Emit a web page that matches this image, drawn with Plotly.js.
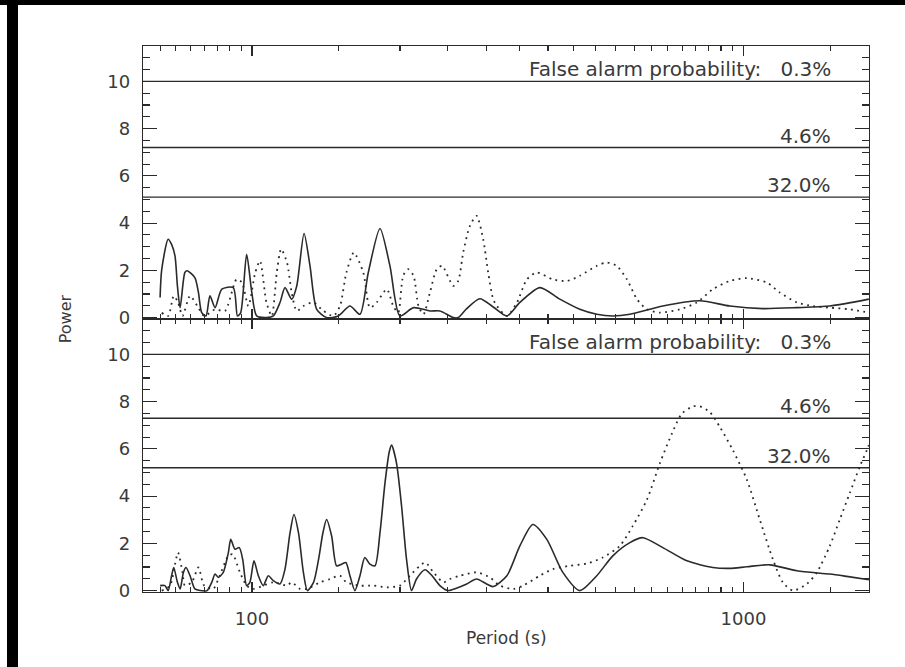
<!DOCTYPE html>
<html>
<head>
<meta charset="utf-8">
<script src="https://cdn.plot.ly/plotly-3.0.1.min.js"></script>
<style>html,body{margin:0;padding:0;background:#fff;}#chart{width:905px;height:667px;}</style>
</head>
<body>
<div id="chart"></div>
<script>
// ---- Upper panel: solid curve ----
const upperSolidPeriod = [65.0,65.5,67.5,68.6,69.7,70.5,71.4,73.0,73.8,76.5,77.8,79.0,80.6,82.1,84.1,86.8,91.6,93.4,94.8,97.5,99.9,102.2,107.0,110.5,114.0,116.7,120.4,123.3,127.6,131.2,135.4,141.8,149.8,158.2,165.8,172.4,182.1,190.8,199.9,213.1,230.1,241.1,256.7,262.7,273.4,290.8,309.5,330,350.7,385.1,422.9,464.4,502.8,542,587,685,815,938,1094,1284,1498,1799];
const upperSolidPower = [0.85,2.03,3.32,3.1,2.61,1.34,0.42,1.91,1.98,1.69,1.06,0.21,0.07,0.92,0.42,1.2,1.27,0.07,0.2,2.68,1.06,0.07,0,0.07,0.64,1.27,0.78,1.34,3.56,2.19,0.35,0,0.07,0.49,0.14,1.91,3.77,2.19,0.07,0.42,0.28,0.28,0,0,0.38,0.8,0.45,0.07,0.64,1.27,0.78,0.35,0.14,0.07,0.14,0.49,0.71,0.49,0.38,0.42,0.49,0.78];

// ---- Upper panel: dotted curve ----
const upperDotPeriod = [65.5,67.5,69.3,70.7,72.2,74.8,77.4,79.9,84.1,88.1,93.0,95.3,98.3,101.5,103.8,107.0,109.7,112.3,114.6,117.8,120.4,123.3,127.2,133.4,139.7,146.4,151.0,155.6,161.1,168.4,173.7,179.3,188.0,193.8,198.3,203.0,207.8,213.1,218.1,223.3,230.1,237.6,243.6,256.7,262.7,268.9,277.5,286.3,295.3,302.3,309.5,315.0,330,346,362.5,379.7,409,437,464.4,502.8,527,552,579,607,636,675.8,742.2,803.6,866,938,1016,1116,1185,1284,1384,1498,1645,1799];
const upperDotPower = [0.2,0.07,0.92,0.64,0.07,0.92,0.49,0.07,0.35,0.28,1.62,1.5,0.49,1.9,2.4,0.64,0.07,1.91,2.9,2.33,1.06,0.28,0.49,0.64,0.28,0.07,0.49,1.91,2.75,1.91,0.42,0.64,1.2,0.49,0.21,1.77,2.05,1.77,0.49,0.14,1.06,2.05,2.19,1.34,1.55,2.75,3.88,4.31,3.32,1.91,0.78,0.49,0.07,0.64,1.62,1.91,1.62,1.55,1.77,2.19,2.33,2.19,1.62,0.78,0.35,0.21,0.35,0.64,1.2,1.55,1.67,1.48,1.06,0.64,0.49,0.42,0.35,0.21];

// ---- Lower panel: solid curve ----
const lowerSolidPeriod = [65.0,66.5,67.5,68.6,69.3,70.5,71.4,72.5,73.4,74.8,76.5,78.4,81.0,82.8,84.1,85.4,87.4,89.5,90.5,92.3,94.2,95.7,97.5,99.0,100.9,103.0,105.4,107.9,110.5,114.0,116.7,119.5,121.7,124.3,127.2,129.6,133.4,136.6,139.4,141.8,145.2,148.6,152.1,155.2,158.2,161.9,165.8,169.6,173.7,177.9,182.1,186.4,190.2,192.3,196.8,201.5,206.2,211.1,216.1,224.9,232.4,241.1,250.6,260.4,273.4,286.3,300.0,309.5,330,350.7,372.7,397.9,428.9,464.4,502.8,542,587.2,624,685.4,767,866,938,1016,1131,1284,1498,1622,1799];
const lowerSolidPower = [0.21,0.21,0,0.63,0.98,0.35,0.07,0.77,0.98,0.63,0.07,0,0,0.35,0.7,0.56,0.77,1.61,2.17,1.75,1.82,1.33,0.21,0.35,1.26,0.63,0.21,0.63,0.42,0.28,0.91,2.45,3.22,2.45,0.77,0,0.35,1.33,2.45,3.01,2.31,1.05,1.12,1.19,0.63,0,0.63,1.4,1.12,1.05,2.45,4.55,5.88,6.16,5.39,3.57,1.33,0,0.49,0.88,0.63,0.21,0,0.1,0.28,0.49,0.28,0.17,0.63,1.89,2.8,2.17,0.77,0,0.63,1.47,2.03,2.24,1.82,1.26,0.98,0.94,1.01,1.09,0.84,0.7,0.6,0.46];

// ---- Lower panel: dotted curve ----
const lowerDotPeriod = [65.5,68.1,69.7,70.7,72.2,73.0,75.4,77.8,79.9,83.4,85.4,89.5,91.3,94.5,97.5,100.6,110.5,117.8,120.4,125.2,129.2,137.5,144.1,151.0,155.6,165.8,176.5,188.0,199.9,209.5,224.9,234.0,245.1,252.7,264.8,286.3,304.7,319.3,340,356,385.1,409.2,443.1,481,517,560,595,636,675.8,715,749,789,815,854,895,951,1016,1079,1147,1202,1260,1345,1410,1498,1570,1645,1724,1782,1799];
const lowerDotPower = [0,0.21,1.12,1.61,0.77,0.21,0.35,0.98,0.21,0.07,0.49,1.47,1.54,0.77,0.21,0.07,0.35,0.21,0.35,0.07,0.07,0.35,0.49,0.63,0.35,0.21,0.21,0.14,0.21,0.63,1.19,0.77,0.35,0.49,0.63,0.77,0.56,0.21,0.07,0.21,0.63,0.91,1.05,1.15,1.4,1.89,2.73,3.85,5.39,6.65,7.49,7.8,7.8,7.56,6.93,5.95,4.69,3.01,1.33,0.35,0,0.28,0.77,1.89,3.01,4.13,5.25,5.95,6.16];

// ---- False alarm probability levels ----
const upperFAP = [10.0, 7.2, 5.1];
const lowerFAP = [10.0, 7.3, 5.2];
const fapLabels = ['False alarm probability:\u00a0\u00a0\u00a00.3%', '4.6%', '32.0%'];

// ---- Axis ticks ----
const xMajorTicks = [100, 1000];
const xMajorText = ['100', '1000'];
const xMinorTicks = [65,70,75,80,85,90,95,150,200,250,300,350,400,450,500,550,600,650,700,750,800,850,900,950,1500];
const periodRange = [60, 1800];
const powerRange = [-0.06, 11.5];

const FONT = 'DejaVu Sans, Liberation Sans, sans-serif';
const INK = '#2a2a2a';
const TXT = '#3a3a3a';

function solid(x, y, xa, ya) {
  return {x: x, y: y, xaxis: xa, yaxis: ya, mode: 'lines', type: 'scatter',
    line: {color: INK, width: 1.6, shape: 'spline', smoothing: 0.7}, hoverinfo: 'skip', showlegend: false};
}
function dotted(x, y, xa, ya) {
  return {x: x, y: y, xaxis: xa, yaxis: ya, mode: 'lines', type: 'scatter',
    line: {color: INK, width: 1.8, dash: '1.8px,4.5px', shape: 'spline', smoothing: 0.7}, hoverinfo: 'skip', showlegend: false};
}

const data = [
  dotted(upperDotPeriod, upperDotPower, 'x2', 'y2'),
  solid(upperSolidPeriod, upperSolidPower, 'x2', 'y2'),
  dotted(lowerDotPeriod, lowerDotPower, 'x', 'y'),
  solid(lowerSolidPeriod, lowerSolidPower, 'x', 'y')
];

function xAxis(anchor, labels) {
  return {
    type: 'log', range: [Math.log10(periodRange[0]), Math.log10(periodRange[1])],
    anchor: anchor, domain: [0, 1],
    showline: true, linecolor: INK, linewidth: 1.3, mirror: 'ticks',
    showgrid: false, zeroline: false,
    tickmode: 'array', tickvals: xMajorTicks, ticktext: xMajorText,
    ticks: 'inside', ticklen: 10, tickwidth: 1.2, tickcolor: INK,
    showticklabels: labels, ticklabelstandoff: 10,
    tickfont: {family: FONT, size: 18, color: TXT},
    minor: {tickmode: 'array', tickvals: xMinorTicks, ticks: 'inside', ticklen: 5, tickwidth: 1.1, tickcolor: INK}
  };
}
function yAxis(anchor, domain) {
  return {
    range: powerRange, anchor: anchor, domain: domain,
    showline: true, linecolor: INK, linewidth: 1.3, mirror: 'ticks',
    showgrid: false, zeroline: false,
    tickmode: 'linear', tick0: 0, dtick: 2,
    ticks: 'inside', ticklen: 14, tickwidth: 1.2, tickcolor: INK,
    ticklabelstandoff: 8,
    tickfont: {family: FONT, size: 18, color: TXT},
    minor: {tickmode: 'linear', tick0: 0, dtick: 0.5, ticks: 'inside', ticklen: 7, tickwidth: 1.1, tickcolor: INK}
  };
}

const shapes = [];
const annotations = [];
function addFAP(levels, xref, yref) {
  levels.forEach(function (lv, i) {
    shapes.push({type: 'line', xref: xref + ' domain', yref: yref, x0: 0, x1: 1, y0: lv, y1: lv,
      line: {color: INK, width: 1.4}, layer: 'above'});
    annotations.push({xref: 'paper', yref: yref, x: 0.9504, y: lv, xanchor: 'right', yanchor: 'bottom',
      yshift: -2, text: fapLabels[i], showarrow: false, font: {family: FONT, size: 20, color: TXT}});
  });
}
addFAP(upperFAP, 'x2', 'y2');
addFAP(lowerFAP, 'x', 'y');

// black frame edges of the original picture
shapes.push({type: 'rect', xref: 'paper', yref: 'paper', x0: -0.2, x1: 1.06, y0: 1.0751, y1: 1.1,
  fillcolor: '#000', line: {width: 0}, layer: 'above'});
shapes.push({type: 'rect', xref: 'paper', yref: 'paper', x0: -0.18733, x1: -0.17218, y0: -0.15, y1: 1.1,
  fillcolor: '#000', line: {width: 0}, layer: 'above'});

annotations.push({xref: 'paper', yref: 'paper', x: -0.107, y: 0.5, textangle: -90, text: 'Power',
  showarrow: false, xanchor: 'center', yanchor: 'middle', font: {family: FONT, size: 16, color: TXT}});
annotations.push({xref: 'paper', yref: 'paper', x: 0.5, y: -0.0842, text: 'Period (s)',
  showarrow: false, xanchor: 'center', yanchor: 'middle', font: {family: FONT, size: 17, color: TXT}});

const layout = {
  width: 905, height: 667,
  margin: {l: 143, r: 36, t: 46, b: 75},
  paper_bgcolor: '#fff', plot_bgcolor: '#fff',
  showlegend: false,
  xaxis: xAxis('y', true),
  yaxis: yAxis('x', [0, 0.5]),
  xaxis2: xAxis('y2', false),
  yaxis2: yAxis('x2', [0.5, 1]),
  shapes: shapes,
  annotations: annotations
};

Plotly.newPlot('chart', data, layout, {displayModeBar: false, staticPlot: true});
</script>
</body>
</html>
